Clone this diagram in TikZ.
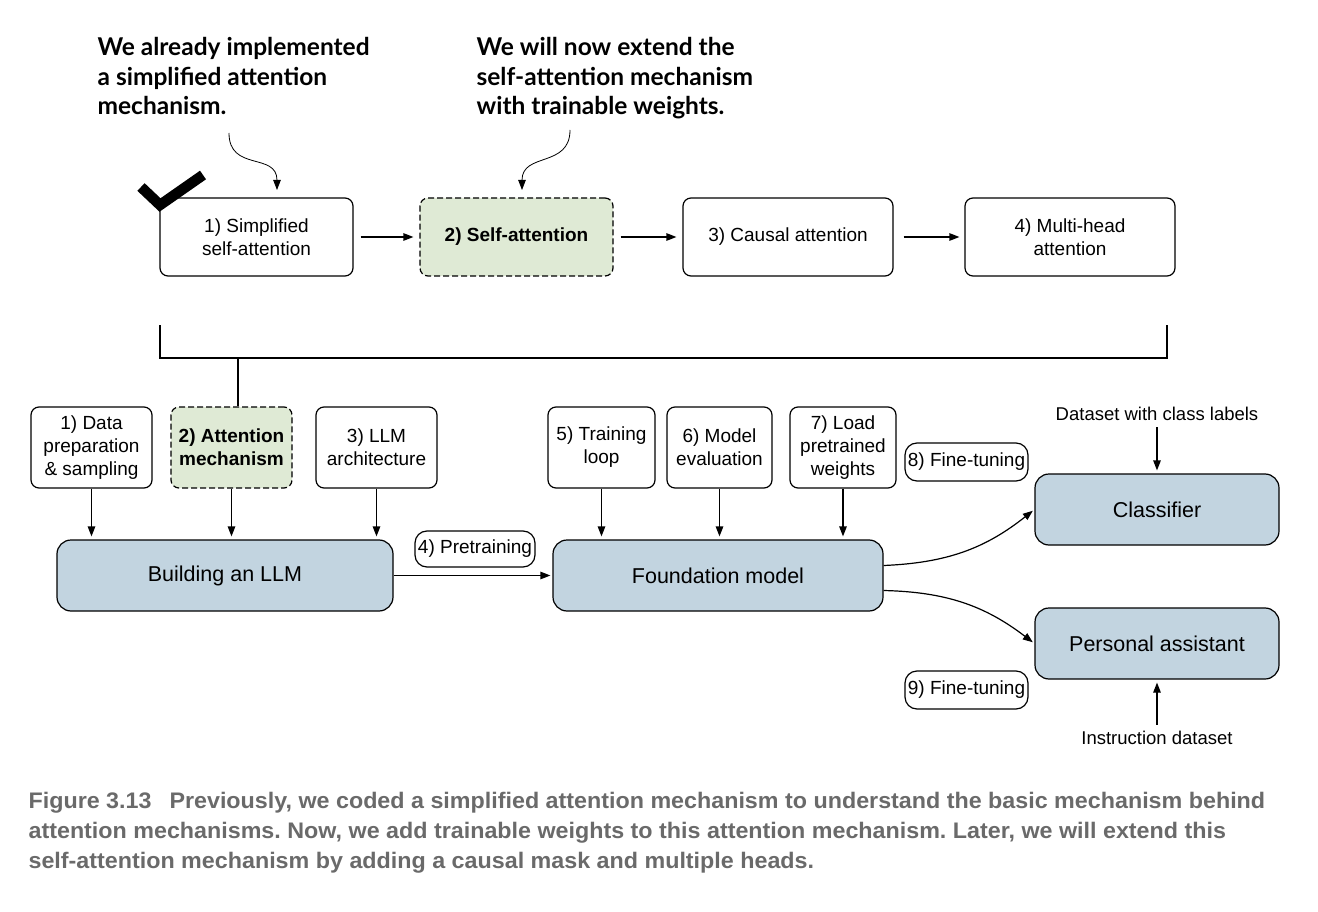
\documentclass[tikz,border=0pt]{standalone}
\usepackage{fontspec}
\setmainfont{Liberation Sans}
\newfontfamily\annfont{Lato}
\newfontfamily\capfont[FakeStretch=1.035]{Liberation Sans}
\usetikzlibrary{arrows.meta}
\definecolor{boxgreen}{HTML}{DFEAD5}
\definecolor{boxblue}{HTML}{C2D4E0}
\definecolor{capgray}{HTML}{6A6A6A}
\frenchspacing
\begin{document}
\begin{tikzpicture}[x=1pt,y=-1pt,line width=1.2pt,
  >={Triangle[length=10pt,width=7.5pt]},
  stepbox/.style={draw,rounded corners=8pt,align=center,inner sep=0pt,
    font=\fontsize{19}{23}\selectfont},
  greenbox/.style={stepbox,fill=boxgreen,dashed,dash pattern=on 6pt off 3pt,font=\fontsize{19}{23}\selectfont\bfseries},
  pill/.style={draw,rounded corners=12pt,inner sep=0pt,minimum width=123pt,minimum height=38pt,
    font=\fontsize{19}{23}\selectfont},
  bigbox/.style={draw,fill=boxblue,rounded corners=14pt,inner sep=0pt,minimum height=71pt,
    font=\fontsize{21.5}{25}\selectfont},
  plain/.style={inner sep=0pt,font=\fontsize{18.5}{22}\selectfont},
  ann/.style={anchor=north west,align=left,inner sep=0pt,
    font=\annfont\bfseries\fontsize{24.5}{29.5}\selectfont},
  conn/.style={->}
]
\useasboundingbox (0,0) rectangle (1318,912);

% annotations
\node[ann] (ann1) at (97,37) {We already implemented\\a simplified attention\\mechanism.};
\node[ann] (ann2) at (476,37) {We will now extend the\\self-attention mechanism\\with trainable weights.};

% top row
\node[stepbox,minimum width=193pt,minimum height=78pt] (t1) at (256.5,237) {1) Simplified\\self-attention};
\node[greenbox,minimum width=193pt,minimum height=78pt] (t2) at (516.5,237) {2) Self-attention};
\node[stepbox,minimum width=210pt,minimum height=78pt] (t3) at (788,237) {3) Causal attention};
\node[stepbox,minimum width=210pt,minimum height=78pt] (t4) at (1070,237) {4) Multi-head\\attention};

\draw[conn,shorten <=7pt,shorten >=6pt] (t1) -- (t2);
\draw[conn,shorten <=7pt,shorten >=6pt] (t2) -- (t3);
\draw[conn,shorten <=10pt,shorten >=5pt] (t3) -- (t4);

% annotation arrows
\coordinate (a1s) at (229,133);
\coordinate (a1e) at (277,190);
\coordinate (a2s) at (570,130);
\coordinate (a2e) at (522,190);
\draw[line width=0.8pt,->] (a1s) .. controls (229,172) and (277,152) .. (a1e);
\draw[line width=0.8pt,->] (a2s) .. controls (570,168) and (522,152) .. (a2e);

% checkmark
\draw[line width=10.5pt] (141,187) -- (160,205) -- (203,175);

% bracket
\coordinate (bl) at (160,325);
\coordinate (br) at (1167,325);
\coordinate (bs) at (238,358);
\draw (bl) -- (160,358) -- (1167,358) -- (br);

% second row
\node[stepbox,minimum width=121pt,minimum height=81pt] (s1) at (91.5,447.5) {1) Data\\preparation\\\& sampling};
\node[greenbox,minimum width=121pt,minimum height=81pt] (s2) at (231.5,447.5) {2) Attention\\mechanism};
\node[stepbox,minimum width=121pt,minimum height=81pt] (s3) at (376.5,447.5) {3) LLM\\architecture};
\node[stepbox,minimum width=107pt,minimum height=81pt] (s5) at (601.5,447.5) {5) Training\\loop};
\node[stepbox,minimum width=105pt,minimum height=81pt] (s6) at (719.5,447.5) {6) Model\\evaluation};
\node[stepbox,minimum width=106pt,minimum height=81pt] (s7) at (843,447.5) {7) Load\\pretrained\\weights};

\draw (bs) -- (bs |- s2.north);

\node[pill] (p8) at (966.5,462) {8) Fine-tuning};
\node[pill,minimum width=120pt,minimum height=36pt] (p4) at (475,549) {4) Pretraining};
\node[pill] (p9) at (966.5,690) {9) Fine-tuning};

% big boxes
\node[bigbox,minimum width=336pt] (build) at (225,575.5) {Building an LLM};
\node[bigbox,minimum width=330pt] (found) at (718,575.5) {Foundation model};
\node[bigbox,minimum width=244pt] (cls) at (1157,509.5) {Classifier};
\node[bigbox,minimum width=244pt] (pa) at (1157,643.5) {Personal assistant};

\draw[conn,shorten >=3pt] (s1.south) -- (s1.south |- build.north);
\draw[conn,shorten >=3pt] (s2.south) -- (s2.south |- build.north);
\draw[conn,shorten >=3pt] (s3.south) -- (s3.south |- build.north);
\draw[conn,shorten >=3pt] (s5.south) -- (s5.south |- found.north);
\draw[conn,shorten >=3pt] (s6.south) -- (s6.south |- found.north);
\draw[conn,shorten >=3pt] (s7.south) -- (s7.south |- found.north);

\draw[conn,shorten >=2pt] (build.east) -- (found.west);
\draw[conn,shorten >=2pt] ([yshift=10pt]found.east) to[bend right=18] (cls.west);
\draw[conn,shorten >=2pt] ([yshift=-15pt]found.east) to[bend left=18] (pa.west);

\node[plain] (dcl) at (1157,414) {Dataset with class labels};
\node[plain] (ind) at (1157,738) {Instruction dataset};
\draw[conn,shorten <=6pt,shorten >=3pt] (dcl.south) -- (cls.north);
\draw[conn,shorten <=6pt,shorten >=3pt] (ind.north) -- (pa.south);

% caption
\node[anchor=north west,align=left,inner sep=0pt,text=capgray,
  font=\capfont\bfseries\fontsize{22.5}{30}\selectfont] (cap) at (28,792)
  {Figure 3.13\hspace{18pt}Previously, we coded a simplified attention mechanism to understand the basic mechanism behind\\
   attention mechanisms. Now, we add trainable weights to this attention mechanism. Later, we will extend this\\
   self-attention mechanism by adding a causal mask and multiple heads.};
\end{tikzpicture}
\end{document}
